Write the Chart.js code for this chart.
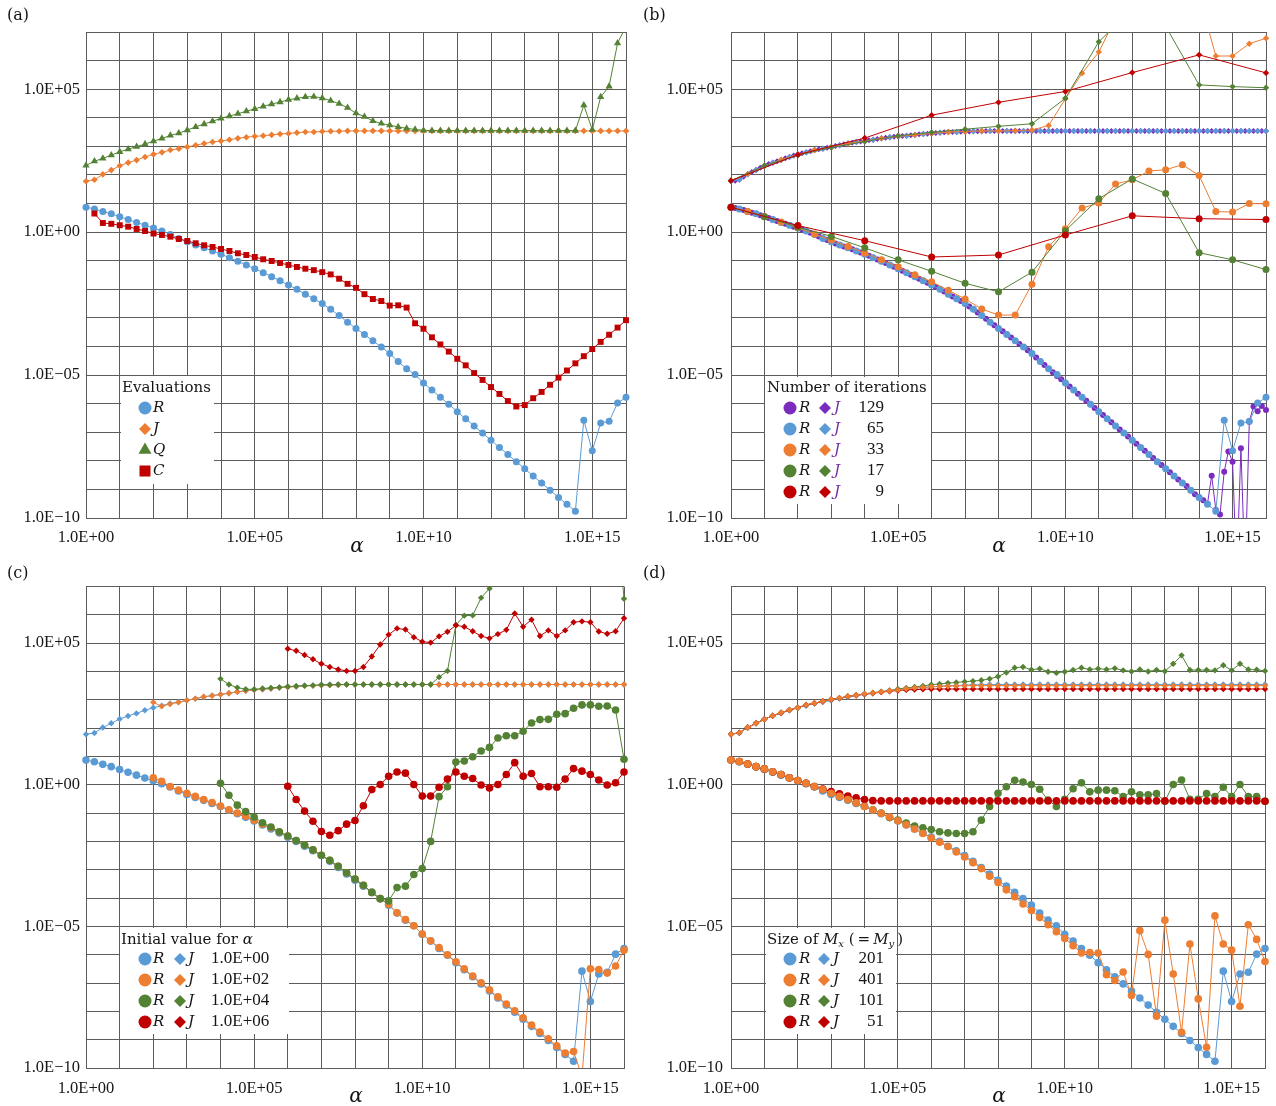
<!DOCTYPE html>
<html>
<head>
<meta charset="utf-8">
<script src="https://cdn.jsdelivr.net/npm/chart.js@4/dist/chart.umd.min.js"></script>
<style>
  body { margin: 0; background: #fff; }
  canvas { position: absolute; }
</style>
</head>
<body>
<canvas id="chartA" width="638" height="553" style="left:0;top:0"></canvas>
<canvas id="chartB" width="638" height="553" style="left:638px;top:0"></canvas>
<canvas id="chartC" width="638" height="553" style="left:0;top:553px"></canvas>
<canvas id="chartD" width="638" height="553" style="left:638px;top:553px"></canvas>
<script>
// all values are log10 exponents

// alpha = 10^x, x values
const alphaExp = [0, 0.25, 0.5, 0.75, 1, 1.25, 1.5, 1.75, 2, 2.25, 2.5, 2.75, 3, 3.25, 3.5, 3.75,
  4, 4.25, 4.5, 4.75, 5, 5.25, 5.5, 5.75, 6, 6.25, 6.5, 6.75, 7, 7.25, 7.5, 7.75,
  8, 8.25, 8.5, 8.75, 9, 9.25, 9.5, 9.75, 10, 10.25, 10.5, 10.75, 11, 11.25, 11.5, 11.75,
  12, 12.25, 12.5, 12.75, 13, 13.25, 13.5, 13.75, 14, 14.25, 14.5, 14.75, 15, 15.25, 15.5, 15.75, 16];
const alpha129 = [0, 0.125, 0.25, 0.375, 0.5, 0.625, 0.75, 0.875, 1, 1.125, 1.25, 1.375, 1.5, 1.625, 1.75, 1.875,
  2, 2.125, 2.25, 2.375, 2.5, 2.625, 2.75, 2.875, 3, 3.125, 3.25, 3.375, 3.5, 3.625, 3.75, 3.875,
  4, 4.125, 4.25, 4.375, 4.5, 4.625, 4.75, 4.875, 5, 5.125, 5.25, 5.375, 5.5, 5.625, 5.75, 5.875,
  6, 6.125, 6.25, 6.375, 6.5, 6.625, 6.75, 6.875, 7, 7.125, 7.25, 7.375, 7.5, 7.625, 7.75, 7.875,
  8, 8.125, 8.25, 8.375, 8.5, 8.625, 8.75, 8.875, 9, 9.125, 9.25, 9.375, 9.5, 9.625, 9.75, 9.875,
  10, 10.125, 10.25, 10.375, 10.5, 10.625, 10.75, 10.875, 11, 11.125, 11.25, 11.375, 11.5, 11.625, 11.75, 11.875,
  12, 12.125, 12.25, 12.375, 12.5, 12.625, 12.75, 12.875, 13, 13.125, 13.25, 13.375, 13.5, 13.625, 13.75, 13.875,
  14, 14.125, 14.25, 14.375, 14.5, 14.625, 14.75, 14.875, 15, 15.125, 15.25, 15.375, 15.5, 15.625, 15.75, 15.875, 16];
const alpha33 = [0, 0.5, 1, 1.5, 2, 2.5, 3, 3.5, 4, 4.5, 5, 5.5, 6, 6.5, 7, 7.5, 8,
  8.5, 9, 9.5, 10, 10.5, 11, 11.5, 12, 12.5, 13, 13.5, 14, 14.5, 15, 15.5, 16];
const alpha17 = [0, 1, 2, 3, 4, 5, 6, 7, 8, 9, 10, 11, 12, 13, 14, 15, 16];
const alpha9 = [0, 2, 4, 6, 8, 10, 12, 14, 16];

// tick labels
const xTickPos = [0, 5, 10, 15];
const xTickText = ['1.0E+00', '1.0E+05', '1.0E+10', '1.0E+15'];
const yTickPos = [5, 0, -5, -10];
const yTickText = ['1.0E+05', '1.0E+00', '1.0E\u221205', '1.0E\u221210'];

// (a) evaluations
const evalNames = ['R', 'J', 'Q', 'C'];
const evalR = [
  0.87, 0.81, 0.72, 0.64, 0.54, 0.44, 0.34, 0.24,
  0.14, 0.04, -0.08, -0.22, -0.34, -0.45, -0.55, -0.66,
  -0.77, -0.9, -1.02, -1.15, -1.28, -1.42, -1.56, -1.7,
  -1.85, -2.0, -2.17, -2.33, -2.5, -2.7, -2.92, -3.15,
  -3.37, -3.58, -3.8, -4.02, -4.25, -4.53, -4.78, -4.98,
  -5.28, -5.52, -5.78, -6.02, -6.28, -6.53, -6.78, -7.03,
  -7.28, -7.53, -7.78, -8.03, -8.28, -8.53, -8.78, -9.03,
  -9.28, -9.52, -9.76, -6.58, -7.65, -6.68, -6.62, -5.98,
  -5.78];
const evalJ = [
  1.78, 1.83, 2.02, 2.17, 2.32, 2.43, 2.52, 2.63,
  2.72, 2.79, 2.87, 2.92, 2.98, 3.04, 3.1, 3.15,
  3.19, 3.23, 3.28, 3.32, 3.35, 3.37, 3.4, 3.43,
  3.45, 3.48, 3.5, 3.5, 3.52, 3.53, 3.53, 3.54,
  3.54, 3.54, 3.54, 3.54, 3.54, 3.54, 3.54, 3.54,
  3.54, 3.54, 3.54, 3.54, 3.54, 3.54, 3.54, 3.54,
  3.54, 3.54, 3.54, 3.54, 3.54, 3.54, 3.54, 3.54,
  3.54, 3.54, 3.54, 3.54, 3.54, 3.54, 3.54, 3.54,
  3.54];
const evalQ = [
  2.33, 2.48, 2.58, 2.69, 2.81, 2.9, 2.99, 3.08,
  3.18, 3.28, 3.38, 3.46, 3.57, 3.68, 3.78, 3.88,
  3.98, 4.06, 4.14, 4.23, 4.31, 4.4, 4.48, 4.55,
  4.63, 4.68, 4.73, 4.74, 4.69, 4.6, 4.49, 4.35,
  4.16, 4.04, 3.89, 3.8, 3.74, 3.68, 3.63, 3.59,
  3.56, 3.55, 3.55, 3.55, 3.55, 3.55, 3.55, 3.55,
  3.55, 3.55, 3.55, 3.55, 3.55, 3.55, 3.55, 3.55,
  3.55, 3.55, 3.55, 4.44, 3.58, 4.73, 5.1, 6.61,
  7.2];
const evalC = [
  null, 0.65, 0.32, 0.29, 0.24, 0.19, 0.11, 0.04,
  -0.05, -0.1, -0.16, -0.24, -0.31, -0.39, -0.46, -0.52,
  -0.59, -0.66, -0.74, -0.8, -0.87, -0.95, -1.01, -1.08,
  -1.15, -1.22, -1.28, -1.33, -1.4, -1.48, -1.63, -1.81,
  -1.95, -2.17, -2.34, -2.41, -2.57, -2.56, -2.64, -3.19,
  -3.38, -3.68, -3.93, -4.18, -4.43, -4.66, -4.93, -5.17,
  -5.42, -5.66, -5.91, -6.1, -6.05, -5.81, -5.59, -5.34,
  -5.09, -4.84, -4.59, -4.34, -4.09, -3.84, -3.59, -3.34,
  -3.08];

// (b) number of iterations (65 is the evalR / evalJ run)
const iterCounts = ['129', '65', '33', '17', '9'];
const iterR129 = [
  0.87, 0.84, 0.81, 0.77, 0.72, 0.68, 0.64, 0.59,
  0.54, 0.49, 0.44, 0.39, 0.34, 0.29, 0.24, 0.19,
  0.14, 0.09, 0.04, -0.02, -0.08, -0.15, -0.22, -0.28,
  -0.34, -0.4, -0.45, -0.5, -0.55, -0.6, -0.66, -0.71,
  -0.77, -0.83, -0.9, -0.96, -1.02, -1.08, -1.15, -1.21,
  -1.28, -1.35, -1.42, -1.49, -1.56, -1.63, -1.7, -1.77,
  -1.85, -1.92, -2.0, -2.08, -2.17, -2.25, -2.33, -2.41,
  -2.5, -2.6, -2.7, -2.81, -2.92, -3.03, -3.15, -3.26,
  -3.37, -3.47, -3.58, -3.69, -3.8, -3.91, -4.02, -4.13,
  -4.25, -4.39, -4.52, -4.65, -4.78, -4.9, -5.03, -5.15,
  -5.28, -5.4, -5.52, -5.65, -5.78, -5.9, -6.02, -6.15,
  -6.28, -6.4, -6.53, -6.65, -6.78, -6.9, -7.03, -7.15,
  -7.28, -7.4, -7.53, -7.65, -7.78, -7.9, -8.03, -8.15,
  -8.28, -8.4, -8.53, -8.65, -8.78, -8.88, -9.03, -9.17,
  -9.28, -9.38, -9.5, -8.52, -9.72, -9.88, -8.38, -7.67,
  -8.03, -12, -7.56, -12, -6.63, -6.1, -6.27, -6.08,
  -6.22];
const iterJ129 = [
  1.79, 1.8, 1.84, 1.94, 2.03, 2.1, 2.17, 2.25,
  2.32, 2.38, 2.43, 2.48, 2.52, 2.58, 2.63, 2.68,
  2.72, 2.76, 2.79, 2.83, 2.87, 2.9, 2.92, 2.95,
  2.98, 3.01, 3.04, 3.07, 3.1, 3.13, 3.15, 3.17,
  3.19, 3.21, 3.23, 3.26, 3.28, 3.3, 3.32, 3.34,
  3.35, 3.36, 3.37, 3.39, 3.4, 3.42, 3.43, 3.44,
  3.45, 3.47, 3.48, 3.49, 3.5, 3.5, 3.5, 3.51,
  3.52, 3.52, 3.53, 3.53, 3.53, 3.54, 3.54, 3.54,
  3.54, 3.54, 3.54, 3.54, 3.54, 3.54, 3.54, 3.54,
  3.54, 3.54, 3.54, 3.54, 3.54, 3.54, 3.54, 3.54,
  3.54, 3.54, 3.54, 3.54, 3.54, 3.54, 3.54, 3.54,
  3.54, 3.54, 3.54, 3.54, 3.54, 3.54, 3.54, 3.54,
  3.54, 3.54, 3.54, 3.54, 3.54, 3.54, 3.54, 3.54,
  3.54, 3.54, 3.54, 3.54, 3.54, 3.54, 3.54, 3.54,
  3.54, 3.54, 3.54, 3.54, 3.54, 3.54, 3.54, 3.54,
  3.54, 3.54, 3.54, 3.54, 3.54, 3.54, 3.54, 3.54,
  3.54];
const iterR33 = [0.87, 0.72, 0.55, 0.35, 0.16, -0.07, -0.28, -0.5, -0.73, -0.97, -1.21,
  -1.49, -1.74, -2.03, -2.34, -2.69, -2.9, -2.9, -1.82, -0.51, 0.12, 0.84, 1.02,
  1.68, 1.83, 2.14, 2.18, 2.36, 1.98, 0.72, 0.7, 1.0, 0.99];
const iterJ33 = [1.8, 2.03, 2.32, 2.53, 2.72, 2.87, 2.98, 3.1, 3.19, 3.28, 3.35,
  3.4, 3.45, 3.5, 3.52, 3.54, 3.54, 3.55, 3.57, 3.73, 4.66, 5.56, 6.3,
  7.48, 8, 8, 8, 8, 8.26, 6.16, 6.16, 6.59, 6.78];
const iterR17 = [0.87, 0.54, 0.17, -0.15, -0.55, -0.97, -1.37, -1.79, -2.09,
  -1.4, 0.05, 1.17, 1.86, 1.35, -0.72, -0.97, -1.31];
const iterJ17 = [1.8, 2.32, 2.69, 2.96, 3.17, 3.37, 3.49, 3.6, 3.7,
  3.79, 4.68, 6.66, 7.8, 7.2, 5.15, 5.09, 5.05];
const iterR9 = [0.87, 0.23, -0.3, -0.87, -0.8, -0.1, 0.57, 0.47, 0.44];
const iterJ9 = [1.8, 2.71, 3.29, 4.09, 4.54, 4.92, 5.58, 6.2, 5.57];

// (c) initial value for alpha (1.0E+00 is the evalR / evalJ run)
const initValues = ['1.0E+00', '1.0E+02', '1.0E+04', '1.0E+06'];
const initR2 = [
  null, null, null, null, null, null, null, null,
  0.25, 0.12, -0.06, -0.19, -0.3, -0.41, -0.52, -0.63,
  -0.75, -0.88, -1.0, -1.11, -1.25, -1.39, -1.52, -1.67,
  -1.81, -1.97, -2.13, -2.3, -2.49, -2.67, -2.88, -3.11,
  -3.33, -3.55, -3.8, -4.02, -4.22, -4.52, -4.76, -4.98,
  -5.27, -5.51, -5.75, -6.0, -6.25, -6.5, -6.75, -6.99,
  -7.24, -7.49, -7.74, -7.98, -8.23, -8.48, -8.73, -8.97,
  -9.22, -9.47, -9.42, -10.3, -6.5, -6.52, -6.65, -6.4,
  -5.84];
const initJ2 = [
  null, null, null, null, null, null, null, null,
  2.91, 2.77, 2.85, 2.91, 2.98, 3.04, 3.11, 3.14,
  3.19, 3.23, 3.28, 3.32, 3.35, 3.37, 3.4, 3.43,
  3.45, 3.47, 3.49, 3.5, 3.51, 3.52, 3.53, 3.54,
  3.54, 3.54, 3.54, 3.54, 3.54, 3.54, 3.54, 3.54,
  3.54, 3.54, 3.54, 3.54, 3.54, 3.54, 3.54, 3.54,
  3.54, 3.54, 3.54, 3.54, 3.54, 3.54, 3.54, 3.54,
  3.54, 3.54, 3.54, 3.54, 3.54, 3.54, 3.54, 3.54,
  3.54];
const initR4 = [
  null, null, null, null, null, null, null, null,
  null, null, null, null, null, null, null, null,
  0.05, -0.37, -0.72, -0.95, -1.14, -1.34, -1.49, -1.66,
  -1.81, -1.97, -2.13, -2.3, -2.49, -2.67, -2.88, -3.11,
  -3.33, -3.55, -3.8, -4.02, -4.1, -3.63, -3.58, -3.17,
  -2.96, -2.0, -0.42, -0.07, 0.8, 0.84, 0.99, 1.19,
  1.32, 1.65, 1.73, 1.73, 1.89, 2.18, 2.3, 2.31,
  2.49, 2.51, 2.7, 2.82, 2.82, 2.77, 2.78, 2.64,
  0.9];
const initJ4 = [
  null, null, null, null, null, null, null, null,
  null, null, null, null, null, null, null, null,
  3.74, 3.54, 3.43, 3.37, 3.37, 3.4, 3.42, 3.44,
  3.47, 3.48, 3.5, 3.51, 3.53, 3.53, 3.54, 3.54,
  3.54, 3.54, 3.54, 3.54, 3.54, 3.54, 3.54, 3.54,
  3.54, 3.54, 3.8, 4.02, 5.64, 5.97, 5.98, 6.6,
  6.93, 7.5, 7.5, 7.5, 7.5, 7.5, 7.5, 7.5,
  7.5, 7.5, 7.5, 7.5, 7.5, 7.5, 7.5, 10,
  6.57];
const initR6 = [
  null, null, null, null, null, null, null, null,
  null, null, null, null, null, null, null, null,
  null, null, null, null, null, null, null, null,
  -0.05, -0.52, -0.93, -1.29, -1.65, -1.78, -1.62, -1.39,
  -1.26, -0.74, -0.17, 0.01, 0.3, 0.45, 0.41, 0.01,
  -0.4, -0.4, -0.09, 0.2, 0.45, 0.3, 0.22, -0.01,
  -0.11, 0.01, 0.36, 0.78, 0.3, 0.4, -0.07, -0.07,
  -0.09, 0.2, 0.57, 0.48, 0.36, 0.17, -0.01, 0.07,
  0.45];
const initJ6 = [
  null, null, null, null, null, null, null, null,
  null, null, null, null, null, null, null, null,
  null, null, null, null, null, null, null, null,
  4.8, 4.73, 4.58, 4.43, 4.27, 4.16, 4.07, 4.02,
  4.02, 4.16, 4.53, 4.95, 5.3, 5.52, 5.48, 5.21,
  5.05, 5.02, 5.24, 5.4, 5.63, 5.58, 5.42, 5.25,
  5.17, 5.32, 5.47, 6.05, 5.58, 5.83, 5.25, 5.45,
  5.25, 5.45, 5.74, 5.77, 5.74, 5.41, 5.33, 5.42,
  5.88];

// (d) size of Mx (201 is the evalR / evalJ run)
const sizes = ['201', '401', '101', '51'];
const sizeR401 = [
  0.87, 0.82, 0.73, 0.64, 0.56, 0.46, 0.36, 0.25,
  0.15, 0.05, -0.06, -0.17, -0.3, -0.41, -0.52, -0.64,
  -0.77, -0.89, -1.01, -1.14, -1.27, -1.41, -1.56, -1.72,
  -1.88, -2.03, -2.18, -2.37, -2.55, -2.75, -2.96, -3.23,
  -3.45, -3.71, -3.95, -4.21, -4.44, -4.69, -4.94, -5.19,
  -5.43, -5.68, -5.94, -5.92, -5.94, -6.71, -6.91, -6.61,
  -7.44, -5.15, -5.99, -8.17, -4.78, -6.68, -8.74, -5.62,
  -7.56, -9.27, -4.63, -5.62, -5.84, -7.82, -4.94, -5.46,
  -6.24];
const sizeJ401 = [
  1.78, 1.84, 2.02, 2.17, 2.31, 2.44, 2.54, 2.64,
  2.72, 2.82, 2.88, 2.95, 3.01, 3.06, 3.12, 3.16,
  3.21, 3.24, 3.28, 3.32, 3.35, 3.39, 3.42, 3.44,
  3.46, 3.47, 3.48, 3.49, 3.5, 3.5, 3.5, 3.5,
  3.5, 3.5, 3.5, 3.5, 3.5, 3.5, 3.5, 3.5,
  3.5, 3.5, 3.5, 3.5, 3.5, 3.5, 3.5, 3.5,
  3.5, 3.5, 3.5, 3.5, 3.5, 3.5, 3.5, 3.5,
  3.5, 3.5, 3.5, 3.5, 3.5, 3.5, 3.5, 3.5,
  3.5];
const sizeR101 = [
  0.87, 0.82, 0.73, 0.64, 0.56, 0.46, 0.36, 0.25,
  0.15, 0.05, -0.06, -0.17, -0.3, -0.41, -0.52, -0.64,
  -0.76, -0.88, -1.0, -1.16, -1.25, -1.35, -1.46, -1.52,
  -1.58, -1.66, -1.7, -1.72, -1.72, -1.66, -1.25, -0.77,
  -0.3, -0.07, 0.16, 0.1, 0.01, -0.16, -0.54, -0.77,
  -0.51, -0.14, 0.07, -0.25, -0.19, -0.19, -0.21, -0.42,
  -0.25, -0.35, -0.35, -0.31, -0.58, 0.01, 0.17, -0.51,
  -0.51, -0.31, -0.42, -0.09, -0.42, 0.01, -0.42, -0.42,
  -0.58];
const sizeJ101 = [
  1.78, 1.84, 2.02, 2.17, 2.31, 2.44, 2.54, 2.64,
  2.72, 2.82, 2.88, 2.95, 3.01, 3.06, 3.12, 3.16,
  3.21, 3.25, 3.29, 3.33, 3.38, 3.42, 3.45, 3.49,
  3.53, 3.56, 3.59, 3.61, 3.64, 3.66, 3.69, 3.74,
  3.82, 3.96, 4.13, 4.16, 4.06, 4.1, 3.99, 3.95,
  3.99, 4.05, 4.13, 4.07, 4.1, 4.07, 4.11, 4.04,
  4.0, 4.07, 4.0, 4.05, 4.01, 4.27, 4.57, 4.05,
  4.05, 4.05, 4.04, 4.22, 4.04, 4.27, 4.07, 4.06,
  4.02];
const sizeR51 = [
  0.87, 0.82, 0.73, 0.64, 0.56, 0.46, 0.36, 0.25,
  0.15, 0.05, -0.06, -0.15, -0.24, -0.32, -0.4, -0.46,
  -0.52, -0.56, -0.57, -0.57, -0.57, -0.57, -0.57, -0.57,
  -0.57, -0.57, -0.57, -0.57, -0.57, -0.57, -0.57, -0.57,
  -0.57, -0.57, -0.57, -0.57, -0.57, -0.57, -0.57, -0.57,
  -0.57, -0.57, -0.57, -0.57, -0.57, -0.57, -0.57, -0.57,
  -0.57, -0.57, -0.57, -0.57, -0.57, -0.57, -0.57, -0.57,
  -0.57, -0.57, -0.57, -0.57, -0.57, -0.57, -0.57, -0.57,
  -0.58];
const sizeJ51 = [
  1.78, 1.84, 2.02, 2.17, 2.31, 2.44, 2.54, 2.64,
  2.72, 2.82, 2.88, 2.95, 3.01, 3.06, 3.12, 3.16,
  3.2, 3.23, 3.27, 3.3, 3.33, 3.35, 3.36, 3.37,
  3.38, 3.38, 3.38, 3.38, 3.38, 3.38, 3.38, 3.38,
  3.38, 3.38, 3.38, 3.38, 3.38, 3.38, 3.38, 3.38,
  3.38, 3.38, 3.38, 3.38, 3.38, 3.38, 3.38, 3.38,
  3.38, 3.38, 3.38, 3.38, 3.38, 3.38, 3.38, 3.38,
  3.38, 3.38, 3.38, 3.38, 3.38, 3.38, 3.38, 3.38,
  3.38];

// colours
const blue = '#5B9BD5';
const orange = '#ED7D31';
const green = '#548235';
const red = '#C00000';
const purple = '#7B2CBF';
const legendPurple = '#7030A0';
const gridColor = '#5c5c5c';
const textColor = '#151515';

const WORD = '15px "DejaVu Serif"';
const ITAL = 'italic 15px "DejaVu Serif"';
const SUB = 'italic 10px "DejaVu Serif"';
const NUM = '17px "Liberation Serif"';

function series(xs, ys, color, style, r) {
  return {
    data: xs.map((x, i) => ({ x: x, y: ys[i] })),
    showLine: true,
    borderColor: color,
    backgroundColor: color,
    borderWidth: 1,
    pointStyle: style,
    pointRadius: r,
    pointHoverRadius: r,
    pointBorderWidth: 0,
    clip: { left: 8, right: 8, top: 0, bottom: 0 }
  };
}

function marker(ctx, style, color, r, x, y) {
  ctx.fillStyle = color;
  ctx.beginPath();
  if (style === 'circle') {
    ctx.arc(x, y, r, 0, Math.PI * 2);
  } else if (style === 'rectRot') {
    ctx.moveTo(x, y - r); ctx.lineTo(x + r, y); ctx.lineTo(x, y + r); ctx.lineTo(x - r, y);
  } else if (style === 'triangle') {
    ctx.moveTo(x, y - r);
    ctx.lineTo(x + r * 0.866, y + r * 0.5);
    ctx.lineTo(x - r * 0.866, y + r * 0.5);
  } else {
    ctx.rect(x - r, y - r, 2 * r, 2 * r);
  }
  ctx.closePath();
  ctx.fill();
}

function drawLegend(ctx, lg) {
  ctx.fillStyle = '#fff';
  ctx.fillRect(lg.box[0], lg.box[1], lg.box[2], lg.box[3]);
  ctx.textBaseline = 'middle';
  ctx.textAlign = 'left';
  ctx.fillStyle = textColor;
  let x = lg.titleX;
  lg.title.forEach(part => {
    ctx.font = part[1] === 'i' ? ITAL : part[1] === 's' ? SUB : WORD;
    ctx.fillText(part[0], x, lg.titleY + (part[1] === 's' ? 4 : 0));
    x += ctx.measureText(part[0]).width;
  });
  lg.rows.forEach((row, i) => {
    const y = lg.rowY[i];
    row.forEach(item => {
      if (item.marker) {
        marker(ctx, item.marker, item.color, item.r, item.x, y);
      } else {
        ctx.font = item.font;
        ctx.fillStyle = item.color || textColor;
        ctx.textAlign = item.align || 'left';
        ctx.fillText(item.text, item.x, y);
        ctx.textAlign = 'left';
      }
    });
  });
}

function decor(geo, lg) {
  return {
    id: 'decor',
    beforeDatasetsDraw(chart) {
      const ctx = chart.ctx;
      ctx.save();
      ctx.translate(-geo.ox, -geo.oy);
      drawLegend(ctx, lg);
      ctx.restore();
    },
    afterDraw(chart) {
      const ctx = chart.ctx;
      ctx.save();
      ctx.translate(-geo.ox, -geo.oy);
      ctx.fillStyle = textColor;
      ctx.textBaseline = 'middle';
      ctx.textAlign = 'left';
      ctx.font = '16px "DejaVu Serif"';
      ctx.fillText(geo.letter, geo.letterX, geo.letterY);
      ctx.textAlign = 'center';
      ctx.font = 'italic 20px "DejaVu Serif"';
      ctx.fillText('\u03b1', geo.alphaX, geo.alphaY);
      ctx.restore();
    }
  };
}

function makeChart(id, geo, datasets, lg) {
  datasets.forEach((d, i) => { d.order = -i; });
  const tickFont = { family: 'Liberation Serif', size: 16.5 };
  return new Chart(document.getElementById(id), {
    type: 'scatter',
    data: { datasets: datasets },
    options: {
      responsive: false,
      animation: false,
      devicePixelRatio: 1,
      events: [],
      layout: { padding: { left: 0, right: geo.padR, top: geo.top, bottom: 0 } },
      plugins: { legend: { display: false }, tooltip: { enabled: false } },
      scales: {
        x: {
          type: 'linear', min: 0, max: 16,
          afterFit: s => { s.height = geo.xh; },
          ticks: {
            stepSize: 1, autoSkip: false, maxRotation: 0, padding: geo.xpad,
            font: tickFont, color: textColor,
            callback: v => { const i = xTickPos.indexOf(v); return i < 0 ? '' : xTickText[i]; }
          },
          grid: { color: gridColor, lineWidth: 1, drawTicks: false },
          border: { color: gridColor }
        },
        y: {
          type: 'linear', min: -10, max: 7,
          afterFit: s => { s.width = geo.left; },
          ticks: {
            stepSize: 1, autoSkip: false, padding: geo.ypad,
            font: tickFont, color: textColor,
            callback: v => { const i = yTickPos.indexOf(v); return i < 0 ? '' : yTickText[i]; }
          },
          grid: { color: gridColor, lineWidth: 1, drawTicks: false },
          border: { color: gridColor }
        }
      }
    },
    plugins: [decor(geo, lg)]
  });
}

// ---- (a)
const evalColors = [blue, orange, green, red];
const evalStyles = ['circle', 'rectRot', 'triangle', 'rect'];
const evalLegendR = [6.5, 6, 7.5, 5.5];
makeChart('chartA',
  { ox: 0, oy: 0, left: 86, padR: 12, top: 32, xh: 35, xpad: 10, ypad: 6,
    letter: '(a)', letterX: 7, letterY: 16, alphaX: 357, alphaY: 547 },
  [
    series(alphaExp, evalR, blue, 'circle', 3.5),
    series(alphaExp, evalJ, orange, 'rectRot', 3.3),
    series(alphaExp, evalQ, green, 'triangle', 4.2),
    series(alphaExp, evalC, red, 'rect', 4.2)
  ],
  {
    box: [121, 376, 93, 108], titleX: 122, titleY: 388, title: [['Evaluations', 'n']],
    rowY: [408, 429, 450, 471],
    rows: evalNames.map((n, i) => [
      { marker: evalStyles[i], color: evalColors[i], r: evalLegendR[i], x: 145 },
      { text: n, font: ITAL, x: 153 }
    ])
  });

// ---- (b)
const iterColors = [purple, blue, orange, green, red];
makeChart('chartB',
  { ox: 638, oy: 0, left: 93, padR: 6.5, top: 32, xh: 35, xpad: 10, ypad: 8,
    letter: '(b)', letterX: 643, letterY: 16, alphaX: 999, alphaY: 547 },
  [
    series(alpha129, iterR129, purple, 'circle', 3),
    series(alpha129, iterJ129, purple, 'rectRot', 3),
    series(alphaExp, evalR, blue, 'circle', 3.5),
    series(alphaExp, evalJ, blue, 'rectRot', 3.2),
    series(alpha33, iterR33, orange, 'circle', 3.5),
    series(alpha33, iterJ33, orange, 'rectRot', 3.2),
    series(alpha17, iterR17, green, 'circle', 3.5),
    series(alpha17, iterJ17, green, 'rectRot', 3.2),
    series(alpha9, iterR9, red, 'circle', 3.5),
    series(alpha9, iterJ9, red, 'rectRot', 3.2)
  ],
  {
    box: [765, 377, 166, 127], titleX: 767, titleY: 388, title: [['Number of iterations', 'n']],
    rowY: [408, 429, 450, 471, 492],
    rows: iterCounts.map((c, i) => [
      { marker: 'circle', color: iterColors[i], r: 6.5, x: 790 },
      { text: 'R', font: ITAL, x: 799 },
      { marker: 'rectRot', color: iterColors[i], r: 6, x: 825 },
      { text: 'J', font: ITAL, x: 834, color: legendPurple },
      { text: c, font: NUM, x: 884, align: 'right' }
    ])
  });

// ---- (c)
const initColors = [blue, orange, green, red];
makeChart('chartC',
  { ox: 0, oy: 553, left: 86, padR: 14, top: 33.5, xh: 38, xpad: 11, ypad: 6,
    letter: '(c)', letterX: 7, letterY: 574, alphaX: 356, alphaY: 1097 },
  [
    series(alphaExp, evalR, blue, 'circle', 3.8),
    series(alphaExp, evalJ, blue, 'rectRot', 3.2),
    series(alphaExp, initR2, orange, 'circle', 3.8),
    series(alphaExp, initJ2, orange, 'rectRot', 3.2),
    series(alphaExp, initR4, green, 'circle', 3.8),
    series(alphaExp, initJ4, green, 'rectRot', 3.2),
    series(alphaExp, initR6, red, 'circle', 3.8),
    series(alphaExp, initJ6, red, 'rectRot', 3.2)
  ],
  {
    box: [120, 928, 169, 106], titleX: 121, titleY: 940,
    title: [['Initial value for ', 'n'], ['\u03b1', 'i']],
    rowY: [959, 980, 1001, 1022],
    rows: initValues.map((v, i) => [
      { marker: 'circle', color: initColors[i], r: 6.5, x: 145 },
      { text: 'R', font: ITAL, x: 153 },
      { marker: 'rectRot', color: initColors[i], r: 6, x: 180 },
      { text: 'J', font: ITAL, x: 188 },
      { text: v, font: NUM, x: 211 }
    ])
  });

// ---- (d)  orange is drawn last so it sits on top where the runs coincide
const sizeColors = [blue, orange, green, red];
makeChart('chartD',
  { ox: 638, oy: 553, left: 93, padR: 6.5, top: 33.5, xh: 38, xpad: 11, ypad: 8,
    letter: '(d)', letterX: 643, letterY: 574, alphaX: 999, alphaY: 1097 },
  [
    series(alphaExp, evalR, blue, 'circle', 3.8),
    series(alphaExp, evalJ, blue, 'rectRot', 3.2),
    series(alphaExp, sizeR101, green, 'circle', 3.8),
    series(alphaExp, sizeJ101, green, 'rectRot', 3.2),
    series(alphaExp, sizeR51, red, 'circle', 3.8),
    series(alphaExp, sizeJ51, red, 'rectRot', 3.2),
    series(alphaExp, sizeR401, orange, 'circle', 3.8),
    series(alphaExp, sizeJ401, orange, 'rectRot', 3.2)
  ],
  {
    box: [766, 928, 130, 106], titleX: 767, titleY: 940,
    title: [['Size of ', 'n'], ['M', 'i'], ['x', 's'], [' (\u2009=\u2009', 'n'], ['M', 'i'], ['y', 's'], ['\u2009)', 'n']],
    rowY: [959, 980, 1001, 1022],
    rows: sizes.map((s, i) => [
      { marker: 'circle', color: sizeColors[i], r: 6.5, x: 790 },
      { text: 'R', font: ITAL, x: 799 },
      { marker: 'rectRot', color: sizeColors[i], r: 6, x: 824 },
      { text: 'J', font: ITAL, x: 833 },
      { text: s, font: NUM, x: 884, align: 'right' }
    ])
  });
</script>
</body>
</html>
